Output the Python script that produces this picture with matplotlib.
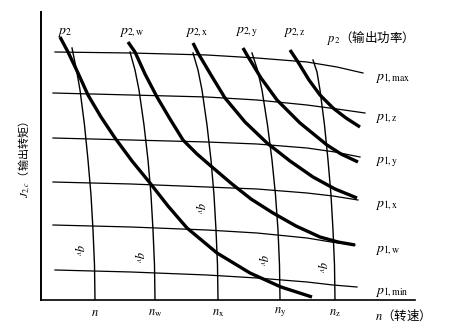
import matplotlib
matplotlib.use("Agg")
import matplotlib.pyplot as plt

plt.rcParams['font.family'] = ['Noto Sans CJK SC', 'DejaVu Sans']
plt.rcParams['mathtext.fontset'] = 'stix'

# thick curves: constant output power p2 (x = speed, y = torque)
p2_names = [r'$p_2$', r'$p_{2,\mathrm{w}}$', r'$p_{2,\mathrm{x}}$', r'$p_{2,\mathrm{y}}$', r'$p_{2,\mathrm{z}}$']
p2_x = [
    [19, 27, 37, 47, 60, 74, 91, 109, 127, 146, 176, 209, 240, 271],
    [87, 94, 104, 116, 129, 142, 156, 171, 191, 210, 232, 255, 279, 297, 314],
    [152, 157, 170, 184, 204, 226, 249, 272, 294, 316],
    [202, 206, 220, 236, 259, 286, 300, 317],
    [249, 257, 268, 279, 292, 305, 319],
]
p2_y = [
    [263, 248, 227, 205, 183, 162, 139, 117, 94, 72, 47, 27, 13, 3],
    [258, 248, 226, 203, 181, 160, 146, 133, 116, 101, 87, 74, 63, 58, 55],
    [257, 247, 225, 202, 178, 157, 139, 123, 111, 102],
    [252, 245, 222, 200, 177, 155, 146, 138],
    [250, 238, 220, 205, 192, 182, 173],
]

# thin near-horizontal curves: constant input pressure p1
p1_names = [r'$p_{1,\mathrm{max}}$', r'$p_{1,\mathrm{z}}$', r'$p_{1,\mathrm{y}}$',
            r'$p_{1,\mathrm{x}}$', r'$p_{1,\mathrm{w}}$', r'$p_{1,\mathrm{min}}$']
p1_x = [
    [14, 90, 166, 216, 266, 296, 322],
    [12, 90, 166, 216, 266, 296, 324],
    [12, 90, 166, 216, 266, 294, 319],
    [12, 90, 166, 216, 266, 292, 317],
    [12, 90, 166, 216, 266, 290, 314],
    [14, 90, 166, 216, 266, 292, 316],
]
p1_y = [
    [248, 247, 245, 242, 238, 233, 227],
    [207, 205, 203, 200, 195, 191, 187],
    [162, 160, 158, 156, 152, 148, 143],
    [118, 116, 113, 111, 107, 104, 100],
    [75, 73, 70, 67, 62, 58, 55],
    [30, 28, 25, 22, 18, 15, 13],
]

# thin near-vertical curves: constant flow q_v
n_names = [r'$n$', r'$n_\mathrm{w}$', r'$n_\mathrm{x}$', r'$n_\mathrm{y}$', r'$n_\mathrm{z}$']
qv_x = [
    [54, 53.5, 52, 50, 47, 43.5, 39, 35.5, 31],
    [114, 113.5, 112, 110, 107, 103, 98, 94, 89],
    [177, 176.5, 175, 173, 170, 166, 161, 157, 152],
    [239, 238.5, 237, 234.5, 231, 226.5, 221, 216.5, 211],
    [294, 293.5, 292, 290, 287, 283.5, 279, 276, 272],
]
qv_y = [
    [0, 35, 70, 105, 140, 175, 210, 230, 252],
    [0, 35, 70, 105, 140, 175, 210, 230, 248],
    [0, 35, 70, 105, 140, 175, 210, 230, 247],
    [0, 35, 70, 105, 140, 175, 210, 230, 247],
    [0, 35, 70, 105, 140, 175, 210, 228, 240],
]
qv_label_x = [37, 97, 159, 221, 281]
qv_label_y = [50, 43, 92, 40, 33]

fig = plt.figure(figsize=(4.5, 3.36), dpi=100)
ax = fig.add_axes([41/450, 36/336, 374/450, 288/336])
ax.set_xlim(0, 374)
ax.set_ylim(0, 288)

for xs, ys in zip(qv_x, qv_y):
    ax.plot(xs, ys, color='black', lw=1.0)
for xs, ys in zip(p1_x, p1_y):
    ax.plot(xs, ys, color='black', lw=0.9)
for xs, ys in zip(p2_x, p2_y):
    ax.plot(xs, ys, color='black', lw=2.4, solid_capstyle='butt')

# curve labels
for xs, ys, name in zip(p2_x, p2_y, p2_names):
    ax.text(xs[0] + 4, 268, name, fontsize=10, ha='center', va='center')
ax.text(286, 262, r'$p_2$' + '（输出功率）', fontsize=9, ha='left', va='center')
for xs, ys, name in zip(p1_x, p1_y, p1_names):
    ax.text(334, ys[-1] - 5, name, fontsize=10, ha='left', va='center')
for x, y in zip(qv_label_x, qv_label_y):
    ax.text(x, y, r'$q_v$', fontsize=9, rotation=-90, ha='center', va='center')

ax.set_xticks([xs[0] for xs in qv_x])
ax.set_xticklabels(n_names, fontsize=9)
ax.tick_params(axis='x', length=0, pad=4)
ax.set_yticks([])
ax.text(334, -15, r'$n$' + '（转速）', fontsize=9, ha='left', va='center', clip_on=False)
ax.text(-16, 140, r'$J_{2,c}$' + '（输出转矩）', fontsize=8, rotation=90,
        ha='center', va='center', clip_on=False)

for s in ['top', 'right']:
    ax.spines[s].set_visible(False)
ax.spines['left'].set_linewidth(1.4)
ax.spines['bottom'].set_linewidth(1.2)

fig.savefig('out.png', dpi=100)
